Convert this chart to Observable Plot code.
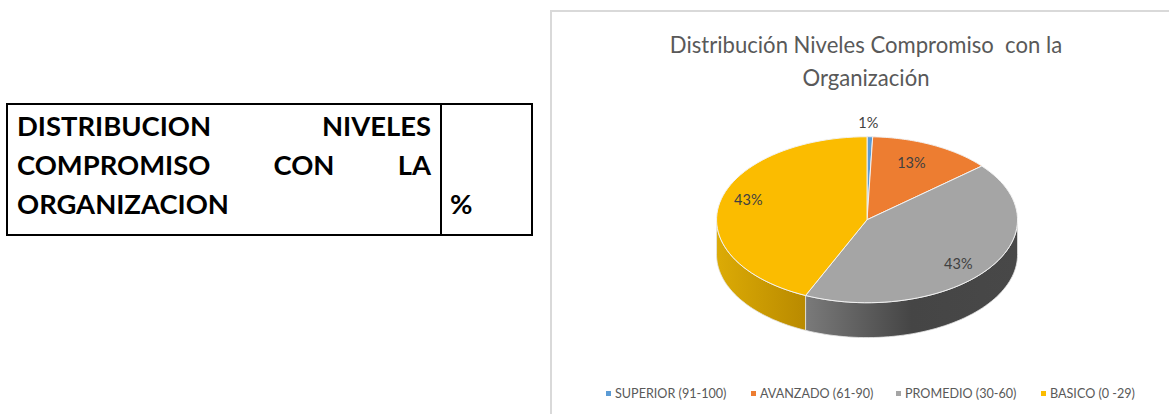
<!DOCTYPE html>
<html lang="es">
<head>
<meta charset="utf-8">
<script src="https://cdn.jsdelivr.net/npm/d3@7"></script>
<script src="https://cdn.jsdelivr.net/npm/@observablehq/plot@0.6"></script>
<style>
html,body{margin:0;padding:0;background:#fff;overflow:hidden;width:1169px;height:414px;font-family:Lato,sans-serif}
#tbl{position:absolute;left:6px;top:103px;width:523px;height:129px;border:2px solid #000;color:#000;font-weight:700;font-size:27.4px;line-height:39px}
#tbl .c1{position:absolute;left:9px;top:1px;width:414px}
#tbl .ln{display:flex;justify-content:space-between;white-space:pre}
#tbl .div{position:absolute;left:432px;top:0;bottom:0;width:2px;background:#000}
#tbl .c2{position:absolute;left:442px;top:79px}
#frame{position:absolute;left:550px;top:10px;width:640px;height:420px;border:2px solid #d9d9d9;box-sizing:border-box}
#title{position:absolute;left:552px;width:628px;top:28px;text-align:center;color:#595959;font-size:22.1px;line-height:33px}
#pie{position:absolute;left:701px;top:113px}
#pie svg{display:block;overflow:visible}
#legend{position:absolute;top:385px;left:606px;height:18px;font-size:12.6px;line-height:18px;color:#595959;white-space:nowrap}
#legend span{position:absolute;top:0}
#legend i{position:absolute;top:6px;width:5px;height:5px}
</style>
</head>
<body>
<div id="tbl"><div class="c1"></div><div class="div"></div><div class="c2"></div></div>
<div id="frame"></div>
<div id="title"></div>
<div id="pie"></div>
<div id="legend"></div>
<script>
const tableLines = [["DISTRIBUCION","NIVELES"],["COMPROMISO","CON","LA"],["ORGANIZACION"]];
const tableHeader2 = "%";
const titleLines = ["Distribución Niveles Compromiso  con la","Organización"];
const categories = ["SUPERIOR (91-100)","AVANZADO (61-90)","PROMEDIO (30-60)","BASICO (0 -29)"];
const values = [0.6,13.2,42.9,43.3];
const labels = ["1%","13%","43%","43%"];
const colors = ["#5b9bd5","#ed7d31","#a5a5a5","#fbbc00"];
const sideFills = [null,null,"url(#sideGray)","url(#sideYellow)"];
const labelRadius = [1.17,0.75,0.8,0.8];
const labelDx = [-2,-5,-5,-1];
const labelDy = [1,0,5,-6];
const legendLeft = [0,145,290,435];
const depth = 0.42;

document.querySelector("#tbl .c1").innerHTML = tableLines.map(l=>`<div class="ln">${l.map(w=>`<span>${w}</span>`).join("")}</div>`).join("");
document.querySelector("#tbl .c2").textContent = tableHeader2;
document.getElementById("title").innerHTML = titleLines.map(t=>`<div style="white-space:pre">${t}</div>`).join("");
document.getElementById("legend").innerHTML = categories.map((c,i)=>`<i style="left:${legendLeft[i]}px;background:${colors[i]}"></i><span style="left:${legendLeft[i]+9}px">${c}</span>`).join("");

// slices, angles clockwise from the top of the ellipse
const total = d3.sum(values);
let acc = 0;
const slices = values.map((v,i)=>{const a0=acc/total*2*Math.PI; acc+=v; const a1=acc/total*2*Math.PI; return {i,a0,a1,mid:(a0+a1)/2};});
const pt = (a,dz=0)=>({x:Math.sin(a),y:-Math.cos(a)+dz});
const arc = (a0,a1,dz=0)=>d3.range(0,61).map(k=>pt(a0+(a1-a0)*k/60,dz));

const tops = slices.flatMap(s=>{
  const c={x:0,y:0};
  return [c,...arc(s.a0,s.a1),c].map(p=>({...p,id:s.i,fill:colors[s.i]}));
});
const sides = slices.flatMap(s=>{
  const a0=Math.max(s.a0,Math.PI/2), a1=Math.min(s.a1,3*Math.PI/2);
  if(a1<=a0) return [];
  const front=arc(a0,a1), back=arc(a0,a1,depth).reverse();
  return [...front,...back,front[0]].map(p=>({...p,id:s.i,fill:sideFills[s.i]}));
});
const labelData = slices.map(s=>({x:labelRadius[s.i]*Math.sin(s.mid),y:-labelRadius[s.i]*Math.cos(s.mid),t:labels[s.i],i:s.i}));

const defs = ()=>{
  const ns="http://www.w3.org/2000/svg";
  const d=document.createElementNS(ns,"defs");
  d.innerHTML=`<linearGradient id="sideGray" x1="0" x2="1" y1="0" y2="0">
    <stop offset="0" stop-color="#7a7a7a"/><stop offset="0.5" stop-color="#454545"/><stop offset="1" stop-color="#484848"/></linearGradient>
    <linearGradient id="sideYellow" x1="0" x2="1" y1="0" y2="0">
    <stop offset="0" stop-color="#dcab05"/><stop offset="1" stop-color="#b98a00"/></linearGradient>`;
  return d;
};

const rx=150.5, ry=83;
const xDom=[-1.1,1.1], yDom=[-1.28,1.6];
const chart = Plot.plot({
  width:rx*(xDom[1]-xDom[0]), height:ry*(yDom[1]-yDom[0]),
  margin:0,
  x:{domain:xDom,axis:null},
  y:{domain:yDom,axis:null,reverse:true},
  color:{type:"identity"},
  style:{background:"transparent",overflow:"visible"},
  marks:[
    defs,
    Plot.line(sides,{x:"x",y:"y",z:"id",fill:"fill",stroke:"#e4e4e4",strokeWidth:0.8,curve:"linear"}),
    Plot.line(tops,{x:"x",y:"y",z:"id",fill:"fill",stroke:"#f2f2f2",strokeWidth:1,curve:"linear"}),
    ...labelData.map(d=>Plot.text([d],{x:"x",y:"y",text:"t",dx:labelDx[d.i],dy:labelDy[d.i],fill:"#404040",fontSize:14.5,fontFamily:"Lato, sans-serif"}))
  ]
});
document.getElementById("pie").append(chart);
</script>
</body>
</html>
